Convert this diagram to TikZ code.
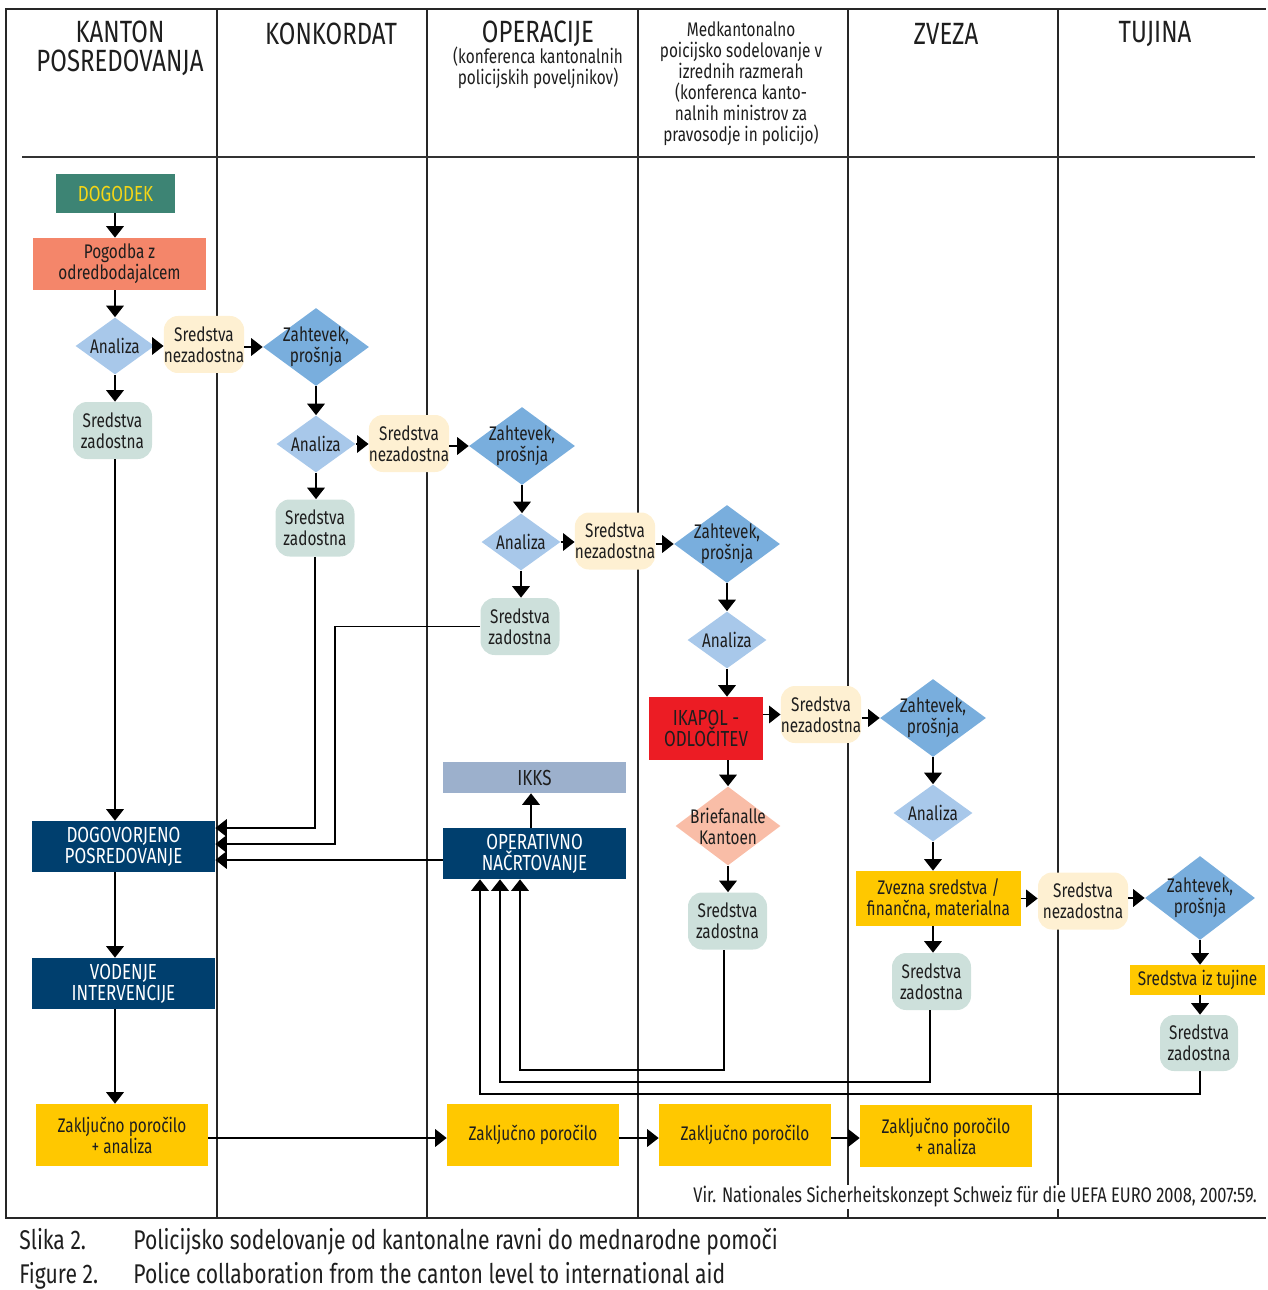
\documentclass[tikz,border=0pt]{standalone}
\usepackage{fontspec}
\setmainfont{Fira Sans}[FakeStretch=0.78]
\usetikzlibrary{shapes.geometric,arrows.meta}
\definecolor{teal}{HTML}{3D8474}
\definecolor{dogtxt}{HTML}{F5D616}
\definecolor{salmon}{HTML}{F4866A}
\definecolor{lblue}{HTML}{A8C8EA}
\definecolor{cream}{HTML}{FEF0D2}
\definecolor{mblue}{HTML}{79AEDD}
\definecolor{sage}{HTML}{CDE0DB}
\definecolor{ikred}{HTML}{EC1C24}
\definecolor{peach}{HTML}{F9BDA7}
\definecolor{dblue}{HTML}{003F6E}
\definecolor{ikks}{HTML}{9CB0CC}
\definecolor{ylw}{HTML}{FFC800}
\definecolor{txt}{HTML}{1E1E1E}
\newcommand{\bodyf}{\fontsize{11.2}{12}\selectfont}
\newcommand{\capsf}{\fontsize{12.4}{12}\selectfont}
\newcommand{\headf}{\fontsize{17.5}{16.5}\selectfont}
\newcommand{\capf}{\fontsize{15.4}{16}\selectfont}
\newcommand{\srcf}{\fontsize{12}{12}\selectfont}
\tikzset{
  wh/.style 2 args={minimum width={#1*0.02cm}, minimum height={#2*0.02cm}},
  base/.style={inner sep=0pt, align=center, font=\bodyf, text=txt},
  lab/.style={inner sep=0pt, align=center, font=\bodyf, text=txt},
  rbox/.style={base, rectangle},
  rr/.style={base, rectangle, rounded corners=8pt},
  snode/.style={rr, fill=cream, wh={78}{57}},
  zsnode/.style={rr, fill=sage, wh={79}{57}},
  anl/.style={diamond, fill=lblue, inner sep=0pt, wh={79}{57}, label={[lab]center:Analiza}},
  zah/.style={diamond, fill=mblue, inner sep=0pt, wh={106}{78}, label={[lab]center:{Zahtevek,\\prošnja}}},
  bluebox/.style={rbox, fill=dblue, text=white, font=\capsf, wh={183}{51}},
  ybox/.style={rbox, fill=ylw, wh={172}{62}},
  head/.style={inner sep=0pt, align=center, font=\headf, text=txt},
  sub/.style={inner sep=0pt, align=center, font=\bodyf, text=txt},
  captxt/.style={anchor=base west, inner sep=0pt, font=\capf, text=txt},
  frame/.style={line width=1.1pt, draw=black!85},
  arr/.style={line width=0.75pt, -{Triangle[width=10pt,length=6.5pt]}},
}
\begin{document}
\begin{tikzpicture}[x=0.02cm, y=-0.02cm]
\useasboundingbox (0,0) rectangle (1267,1290);
% frame and columns
\draw[frame] (1266,9) -- (6,9) -- (6,1218) -- (1266,1218);
\foreach \cx in {217,427,638,848,1058} {\draw[frame] (\cx,9) -- (\cx,1218);}
\draw[line width=0.9pt, draw=black!80] (22,157) -- (1255,157);
% header
\node[head] (h1) at (120,48) {KANTON\\POSREDOVANJA};
\node[head] (h2) at (331,34) {KONKORDAT};
\node[head] (h3) at (538,34) {OPERACIJE};
\node[sub] (h3b) at (538,67.5) {(konferenca kantonalnih\\policijskih poveljnikov)};
\node[sub] (h4) at (741,84) {Medkantonalno\\poicijsko sodelovanje v\\izrednih razmerah\\(konferenca kanto-\\nalnih ministrov za\\pravosodje in policijo)};
\node[head] (h5) at (946,34) {ZVEZA};
\node[head] (h6) at (1155,34) {TUJINA};
% helper coordinates
\coordinate (y828) at (0,828);
\coordinate (c335) at (335,844);
\coordinate (y860) at (0,860);
\coordinate (c520) at (520,1070);
\coordinate (c500) at (500,1082);
\coordinate (c480) at (480,1094);
% column 1
\node[rbox, fill=teal, text=dogtxt, font=\capsf, wh={119}{39}] (dog) at (115.5,193.5) {DOGODEK};
\node[rbox, fill=salmon, wh={173}{52}] (pog) at (119.5,264) {Pogodba z\\odredbodajalcem};
\node[anl] (an1) at (115,346) {};
\node[snode] (sn1) at (204,344.5) {Sredstva\\nezadostna};
\node[zah] (z1) at (316,347) {};
\node[zsnode] (sz1) at (112.5,430.5) {Sredstva\\zadostna};
% row 2
\node[anl] (an2) at (316,444) {};
\node[snode] (sn2) at (409,443.5) {Sredstva\\nezadostna};
\node[zah] (z2) at (522,446) {};
\node[zsnode] (sz2) at (315,528) {Sredstva\\zadostna};
% row 3
\node[anl] (an3) at (521,542) {};
\node[snode] (sn3) at (615,541) {Sredstva\\nezadostna};
\node[zah] (z3) at (727,544) {};
\node[zsnode] (sz3) at (520,626.5) {Sredstva\\zadostna};
% row 4
\node[anl] (an4) at (727,640) {};
\node[rbox, fill=ikred, font=\capsf, wh={114}{63}] (ika) at (706,728.5) {IKAPOL -\\ODLOČITEV};
\node[snode] (sn4) at (821,714.5) {Sredstva\\nezadostna};
\node[zah] (z4) at (933,718) {};
\node[diamond, fill=peach, inner sep=0pt, wh={105}{79}, label={[lab]center:{Briefanalle\\Kantoen}}] (bri) at (728,826) {};
\node[zsnode] (sz4) at (727.5,921) {Sredstva\\zadostna};
% row 5
\node[anl] (an5) at (933,813) {};
\node[rbox, fill=ylw, wh={165}{55}] (zv) at (938.5,898.5) {Zvezna sredstva /\\finančna, materialna};
\node[rr, fill=cream, wh={90}{57}] (sn5) at (1083,901) {Sredstva\\nezadostna};
\node[diamond, fill=mblue, inner sep=0pt, wh={110}{84}, label={[lab]center:{Zahtevek,\\prošnja}}] (z5) at (1200,898) {};
\node[rbox, fill=ylw, wh={135}{30}] (tuj) at (1197.5,980) {Sredstva iz tujine};
\node[zsnode] (sz5) at (931.5,981.5) {Sredstva\\zadostna};
\node[rr, fill=sage, wh={78}{56}] (sz6) at (1199,1043) {Sredstva\\zadostna};
% blue boxes
\node[bluebox] (dogp) at (123.5,846.5) {DOGOVORJENO\\POSREDOVANJE};
\node[bluebox] (vod) at (123.5,983.5) {VODENJE\\INTERVENCIJE};
\node[bluebox] (opn) at (534.5,853.5) {OPERATIVNO\\NAČRTOVANJE};
\node[rbox, fill=ikks, font=\capsf, wh={183}{31}] (ikk) at (534.5,777.5) {IKKS};
% final reports
\node[ybox] (zp1) at (122,1135) {Zaključno poročilo\\+ analiza};
\node[ybox] (zp2) at (533,1135) {Zaključno poročilo};
\node[ybox] (zp3) at (745,1135) {Zaključno poročilo};
\node[ybox] (zp4) at (946,1136) {Zaključno poročilo\\+ analiza};
% connectors col 1
\draw[arr] (dog.south -| an1) -- (an1 |- pog.north);
\draw[arr] (pog.south -| an1) -- (an1.north);
\draw[arr] (an1.south) -- (an1 |- sz1.north);
\draw[arr] (an1.east) -- (an1.east -| sn1.west);
\draw[arr] (sn1.east |- z1) -- (z1.west);
\draw[arr] (sz1.south -| an1) -- (an1 |- dogp.north);
\draw[arr] (dogp.south -| an1) -- (an1 |- vod.north);
\draw[arr] (vod.south -| an1) -- (an1 |- zp1.north);
% row 2
\draw[arr] (z1.south) -- (z1.south |- an2.north);
\draw[arr] (an2.east) -- (an2.east -| sn2.west);
\draw[arr] (sn2.east |- z2) -- (z2.west);
\draw[arr] (an2.south) -- (an2.south |- sz2.north);
% row 3
\draw[arr] (z2.south) -- (z2.south |- an3.north);
\draw[arr] (an3.east) -- (an3.east -| sn3.west);
\draw[arr] (sn3.east |- z3) -- (z3.west);
\draw[arr] (an3.south) -- (an3.south |- sz3.north);
% row 4
\draw[arr] (z3.south) -- (z3.south |- an4.north);
\draw[arr] (an4.south) -- (an4.south |- ika.north);
\draw[arr] (ika.east |- sn4) -- (sn4.west);
\draw[arr] (sn4.east |- z4) -- (z4.west);
\draw[arr] (ika.south -| bri) -- (bri.north);
\draw[arr] (bri.south) -- (bri.south |- sz4.north);
% row 5
\draw[arr] (z4.south) -- (z4.south |- an5.north);
\draw[arr] (an5.south) -- (an5.south |- zv.north);
\draw[arr] (zv.east) -- (zv.east -| sn5.west);
\draw[arr] (sn5.east |- z5) -- (z5.west);
\draw[arr] (zv.south -| an5) -- (an5 |- sz5.north);
\draw[arr] (z5.south) -- (z5.south |- tuj.north);
\draw[arr] (tuj.south -| z5) -- (z5 |- sz6.north);
% into DOGOVORJENO
\draw[arr] (sz2.south) |- (dogp.east |- y828);
\draw[arr] (sz3.west) -| (c335) -- (dogp.east |- c335);
\draw[arr] (opn.west |- y860) -- (dogp.east |- y860);
\draw[arr] (opn.north -| 531,0) -- (ikk.south -| 531,0);
% into OPERATIVNO
\draw[arr] (sz4.south -| 724,0) |- (c520) -- (opn.south -| c520);
\draw[arr] (sz5.south -| 930,0) |- (c500) -- (opn.south -| c500);
\draw[arr] (sz6.south -| 1200,0) |- (c480) -- (opn.south -| c480);
% reports
\draw[arr] (zp1.east |- 0,1138) -- (zp2.west |- 0,1138);
\draw[arr] (zp2.east |- 0,1138) -- (zp3.west |- 0,1138);
\draw[arr] (zp3.east |- 0,1138) -- (zp4.west |- 0,1138);
% source and caption
\node[anchor=east, fill=white, inner sep=1pt, font=\srcf, text=txt] (src) at (1259,1197) {Vir. Nationales Sicherheitskonzept Schweiz für die UEFA EURO 2008, 2007:59.};
\node[captxt] (c1) at (19,1249) {Slika 2.};
\node[captxt] (c2) at (133,1249) {Policijsko sodelovanje od kantonalne ravni do mednarodne pomoči};
\node[captxt] (c3) at (19,1283) {Figure 2.};
\node[captxt] (c4) at (133,1283) {Police collaboration from the canton level to international aid};
\end{tikzpicture}
\end{document}
